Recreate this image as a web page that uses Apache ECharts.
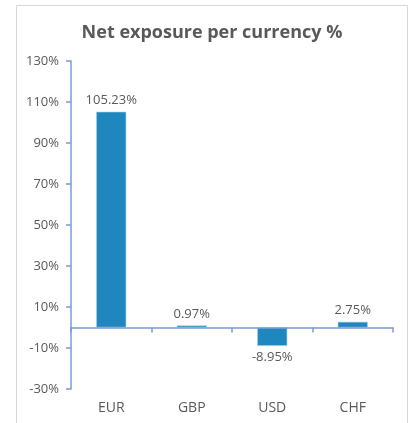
<!DOCTYPE html>
<html>
<head>
<meta charset="utf-8">
<script src="https://cdn.jsdelivr.net/npm/echarts@6/dist/echarts.min.js"></script>
<style>
html,body{margin:0;padding:0;background:#fff;}
#chart{width:412px;height:423px;}
</style>
</head>
<body>
<div id="chart"></div>
<script>
const categories = ['EUR', 'GBP', 'USD', 'CHF'];
const exposure = [105.23, 0.97, -8.95, 2.75];
const yTicks = [-30, -10, 10, 30, 50, 70, 90, 110, 130];

const chart = echarts.init(document.getElementById('chart'));
const axisColor = '#7b9bd5';
const textColor = '#595959';
chart.setOption({
  animation: false,
  backgroundColor: '#fff',
  title: {
    text: 'Net exposure per currency %',
    left: 207,
    textAlign: 'center',
    top: 19,
    textStyle: { fontFamily: 'Open Sans', fontSize: 18, fontWeight: 'bold', color: textColor }
  },
  graphic: [{
    type: 'rect',
    shape: { x: 16.5, y: 5.5, width: 391, height: 430 },
    style: { fill: 'none', stroke: '#d9d9d9', lineWidth: 1 },
    silent: true,
    z: -1
  }],
  grid: { left: 71, right: 19, top: 61, bottom: 34, outerBoundsMode: 'none', containLabel: false },
  xAxis: [{
    type: 'category',
    data: categories,
    position: 'bottom',
    z: 5,
    axisLine: { onZero: true, lineStyle: { color: axisColor, width: 1.5 } },
    axisTick: { show: true, length: 5, lineStyle: { color: axisColor, width: 1.5 } },
    axisLabel: { show: false }
  }, {
    type: 'category',
    data: categories,
    position: 'bottom',
    axisLine: { show: false, onZero: false },
    axisTick: { show: false },
    axisLabel: { margin: 12, color: textColor, fontFamily: 'Open Sans', fontSize: 14 }
  }],
  yAxis: {
    type: 'value',
    min: -30,
    max: 130,
    splitLine: { show: false },
    axisLine: { show: true, lineStyle: { color: axisColor, width: 1.5 } },
    axisTick: { show: true, length: 5, customValues: yTicks, lineStyle: { color: axisColor, width: 1.5 } },
    axisLabel: {
      customValues: yTicks,
      margin: 12,
      color: textColor,
      fontFamily: 'Open Sans',
      fontSize: 13,
      formatter: v => v + '%'
    }
  },
  series: [{
    type: 'bar',
    data: exposure,
    xAxisIndex: 0,
    barWidth: 30,
    itemStyle: { color: '#1f87bd', borderColor: '#9ccbe6', borderWidth: 0.6 },
    label: {
      show: true,
      position: 'outside',
      distance: 5,
      color: textColor,
      fontFamily: 'Open Sans',
      fontSize: 13,
      formatter: p => p.value.toFixed(2) + '%'
    }
  }]
});
</script>
</body>
</html>
